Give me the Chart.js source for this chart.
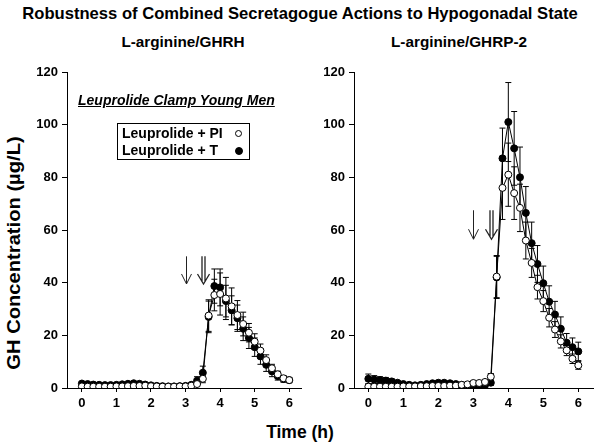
<!DOCTYPE html>
<html lang="en">
<head>
    <meta charset="UTF-8">
    <title>Robustness of Combined Secretagogue Actions</title>
    <script src="https://cdn.jsdelivr.net/npm/chart.js"></script>
    <style>
        body { margin: 0; background: #fff; font-family: 'Liberation Sans', Arial, sans-serif; font-weight: bold; color: #000; }
        #page { position: relative; width: 600px; height: 445px; overflow: hidden; }
        .txt { position: absolute; white-space: nowrap; }
        canvas { position: absolute; }
        .mark { display: inline-block; width: 6px; height: 6px; border: 1px solid #000; border-radius: 50%; position: absolute; }
    </style>
</head>
<body>
<div id="page">
    <div class="txt" style="left:0; width:600px; top:4px; text-align:center; font-size:16.6px;">Robustness of Combined Secretagogue Actions to Hypogonadal State</div>
    <div class="txt" style="left:83px; width:200px; top:33px; text-align:center; font-size:15.3px;">L-arginine/GHRH</div>
    <div class="txt" style="left:359px; width:200px; top:33px; text-align:center; font-size:15.3px;">L-arginine/GHRP-2</div>
    <div class="txt" style="left:14px; top:253px; font-size:18px; transform: translate(-50%, -50%) rotate(-90deg) scaleX(1.12);">GH Concentration (µg/L)</div>
    <div class="txt" style="left:200px; width:200px; top:422px; text-align:center; font-size:17.5px;">Time (h)</div>

    <canvas id="left" width="306" height="350" style="left:0; top:60px;"></canvas>
    <canvas id="right" width="300" height="350" style="left:300px; top:60px;"></canvas>

    <div class="txt" style="left:78px; top:92px; font-size:14px; font-style:italic; text-decoration:underline;">Leuprolide Clamp Young Men</div>
    <div style="position:absolute; left:117px; top:123px; width:131px; height:35px; border:1px solid #000; background:#fff;">
        <div class="txt" style="left:4px; top:1px; font-size:14px;">Leuprolide + PI</div>
        <div class="txt" style="left:4px; top:18px; font-size:14px;">Leuprolide + T</div>
        <span class="mark" style="left:117px; top:6px; width:5px; height:5px; background:#fff;"></span>
        <span class="mark" style="left:117px; top:23px; background:#000;"></span>
    </div>
</div>

<script>
    // sampling times (h), every 10 min
    const times = [0, 0.167, 0.333, 0.5, 0.667, 0.833, 1, 1.167, 1.333, 1.5, 1.667, 1.833,
        2, 2.167, 2.333, 2.5, 2.667, 2.833, 3, 3.167, 3.333, 3.5, 3.667, 3.833,
        4, 4.167, 4.333, 4.5, 4.667, 4.833, 5, 5.167, 5.333, 5.5, 5.667, 5.833, 6];
    const xTicks = [0, 1, 2, 3, 4, 5, 6];
    const yTicks = [0, 20, 40, 60, 80, 100, 120];

    // L-arginine/GHRH
    const ghrhPI = [0.6, 0.5, 0.5, 0.5, 0.5, 0.5, 0.6, 0.6, 0.7, 0.8, 0.8, 0.9,
        0.7, 0.6, 0.5, 0.5, 0.5, 0.6, 0.6, 0.9, 1.5, 3.5, 27.5, 35.3,
        35.7, 34, 31, 27.7, 24.3, 21, 17.6, 14.2, 10.6, 7.5, 5.2, 3.7, 3.0];
    const ghrhPIErr = [0.3, 0.3, 0.3, 0.3, 0.3, 0.3, 0.3, 0.3, 0.3, 0.3, 0.3, 0.3,
        0.3, 0.3, 0.3, 0.3, 0.3, 0.3, 0.3, 0.4, 0.8, 1.5, 6, 6,
        8, 8, 7, 5.5, 4.5, 3.5, 3, 2.5, 2, 1.5, 1.2, 0.9, 0.7];
    const ghrhT = [1.7, 1.5, 1.3, 1.2, 1.1, 1.1, 1.2, 1.4, 1.6, 1.8, 1.6, 1.3,
        1.0, 0.8, 0.7, 0.6, 0.6, 0.7, 0.8, 1.2, 2.8, 5.8, 27, 38.7,
        38.2, 33, 29.5, 26.5, 22.5, 19, 15.5, 12, 8.8, 6.3, 4.5, 3.4, 3.0];
    const ghrhTErr = [0.6, 0.5, 0.5, 0.5, 0.5, 0.5, 0.5, 0.5, 0.5, 0.5, 0.5, 0.5,
        0.4, 0.4, 0.4, 0.4, 0.4, 0.4, 0.4, 0.6, 1.5, 2.5, 6, 6.5,
        7, 6, 5.5, 5, 4.5, 4, 3.5, 3, 2.5, 2, 1.5, 1.2, 1];

    // L-arginine/GHRP-2
    const ghrpPI = [0.5, 0.5, 0.5, 0.5, 0.5, 0.5, 0.6, 0.6, 0.6, 0.7, 0.7, 0.8,
        0.8, 0.8, 0.9, 0.9, 1.2, 1.4, 1.9, 1.9, 2.3, 4.3, 42.3, 76,
        81, 74, 68.4, 56, 47.5, 38.3, 33, 26.7, 22.2, 17.7, 14.3, 11.1, 8.6];
    const ghrpPIErr = [0.4, 0.4, 0.4, 0.4, 0.4, 0.4, 0.4, 0.4, 0.4, 0.4, 0.4, 0.4,
        0.4, 0.4, 0.4, 0.4, 0.5, 0.5, 0.6, 0.6, 0.7, 1.2, 8, 12,
        12, 10, 9, 7, 5.5, 4.5, 4, 3.5, 3, 2.5, 2, 1.8, 1.5];
    const ghrpT = [3.5, 3.2, 3.0, 2.8, 2.5, 2.0, 1.5, 1.2, 1.0, 1.2, 1.5, 1.8,
        2.0, 2.0, 1.8, 1.5, 1.2, 1.0, 1.0, 0.8, 1.0, 2.0, 42, 87.2,
        101, 91, 80, 66.5, 55, 47.1, 39.8, 32.8, 27.9, 22.5, 17.2, 15.5, 13.9];
    const ghrpTErr = [1.8, 1.5, 1.3, 1.2, 1.0, 0.8, 0.6, 0.5, 0.5, 0.5, 0.6, 0.6,
        0.7, 0.7, 0.6, 0.5, 0.5, 0.4, 0.4, 0.4, 0.5, 1.0, 8, 11.5,
        15, 14, 11.5, 10, 8, 7, 6.5, 6, 5, 4.5, 3.5, 3.5, 3.5];

    // infusion arrows: time (h), top and tip (µg/L)
    const ghrhArrows = [{ t: 3.0, top: 50, tip: 39.5, double: false }, { t: 3.5, top: 50, tip: 39.5, double: true }];
    const ghrpArrows = [{ t: 3.0, top: 67.5, tip: 56.5, double: false }, { t: 3.5, top: 67.5, tip: 56.5, double: true }];

    const tickFont = { family: "'Liberation Sans', Arial, sans-serif", size: 13, weight: 'bold' };

    const errorBars = {
        id: 'errorBars',
        beforeDatasetsDraw(chart) {
            const ctx = chart.ctx;
            const y = chart.scales.y;
            ctx.save();
            ctx.strokeStyle = '#000';
            ctx.lineWidth = 1;
            chart.data.datasets.forEach((ds, di) => {
                const meta = chart.getDatasetMeta(di);
                meta.data.forEach((pt, i) => {
                    const v = ds.data[i].y, e = ds.err[i];
                    const x = pt.x;
                    const yTop = y.getPixelForValue(v + e);
                    const yBot = y.getPixelForValue(Math.max(0, v - e));
                    ctx.beginPath();
                    ctx.moveTo(x, yTop); ctx.lineTo(x, yBot);
                    ctx.moveTo(x - 3, yTop); ctx.lineTo(x + 3, yTop);
                    ctx.moveTo(x - 3, yBot); ctx.lineTo(x + 3, yBot);
                    ctx.stroke();
                });
            });
            ctx.restore();
        }
    };

    const arrowPlugin = {
        id: 'arrows',
        afterDraw(chart) {
            const ctx = chart.ctx;
            const xs = chart.scales.x, ys = chart.scales.y;
            ctx.save();
            ctx.strokeStyle = '#222';
            chart.options.plugins.arrows.items.forEach(a => {
                const x = Math.round(xs.getPixelForValue(a.t)) + 0.5;
                const y0 = ys.getPixelForValue(a.top);
                const y1 = ys.getPixelForValue(a.tip);
                ctx.beginPath();
                if (a.double) {
                    ctx.lineWidth = 1.3;
                    ctx.moveTo(x - 1.5, y0); ctx.lineTo(x - 1.5, y1 - 2);
                    ctx.moveTo(x + 1.5, y0); ctx.lineTo(x + 1.5, y1 - 2);
                    ctx.moveTo(x - 6, y1 - 10); ctx.lineTo(x, y1); ctx.lineTo(x + 6, y1 - 10);
                } else {
                    ctx.lineWidth = 1;
                    ctx.moveTo(x, y0); ctx.lineTo(x, y1);
                    ctx.moveTo(x - 5, y1 - 10); ctx.lineTo(x, y1); ctx.lineTo(x + 5, y1 - 10);
                }
                ctx.stroke();
            });
            ctx.restore();
        }
    };

    function pairs(vals) {
        return vals.map((v, i) => ({ x: times[i], y: v }));
    }

    function makeChart(id, piVals, piErr, tVals, tErr, arrows, xMin, xMax, yWidth, padRight) {
        new Chart(document.getElementById(id), {
            type: 'line',
            data: {
                datasets: [{
                    label: 'Leuprolide + PI',
                    data: pairs(piVals),
                    err: piErr,
                    borderColor: '#000',
                    borderWidth: 1,
                    pointRadius: 3.5,
                    pointBorderWidth: 1,
                    pointBackgroundColor: '#fff',
                    pointBorderColor: '#000',
                    tension: 0
                }, {
                    label: 'Leuprolide + T',
                    data: pairs(tVals),
                    err: tErr,
                    borderColor: '#000',
                    borderWidth: 1,
                    pointRadius: 3.5,
                    pointBorderWidth: 1,
                    pointBackgroundColor: '#000',
                    pointBorderColor: '#000',
                    tension: 0
                }]
            },
            options: {
                responsive: false,
                animation: false,
                layout: { padding: { top: 12, right: padRight, left: 0, bottom: 0 } },
                scales: {
                    x: {
                        type: 'linear',
                        min: xMin,
                        max: xMax,
                        afterBuildTicks: s => { s.ticks = xTicks.map(v => ({ value: v })); },
                        afterFit: s => { s.height = 22; },
                        grid: { drawOnChartArea: false, drawTicks: true, tickLength: 4, color: '#000' },
                        border: { display: true, color: '#000', width: 1 },
                        ticks: { color: '#000', font: tickFont, padding: 4, maxRotation: 0 }
                    },
                    y: {
                        min: 0,
                        max: 120,
                        afterBuildTicks: s => { s.ticks = yTicks.map(v => ({ value: v })); },
                        afterFit: s => { s.width = yWidth; },
                        grid: { drawOnChartArea: false, drawTicks: true, tickLength: 5, color: '#000' },
                        border: { display: true, color: '#000', width: 1 },
                        ticks: { color: '#000', font: tickFont, padding: 4 }
                    }
                },
                plugins: {
                    legend: { display: false },
                    tooltip: { enabled: false },
                    arrows: { items: arrows }
                }
            },
            plugins: [errorBars, arrowPlugin]
        });
    }

    makeChart('left', ghrhPI, ghrhPIErr, ghrhT, ghrhTErr, ghrhArrows, -0.43, 6.34, 67, 1);
    makeChart('right', ghrpPI, ghrpPIErr, ghrpT, ghrpTErr, ghrpArrows, -0.41, 6.42, 54, 7);
</script>
</body>
</html>
